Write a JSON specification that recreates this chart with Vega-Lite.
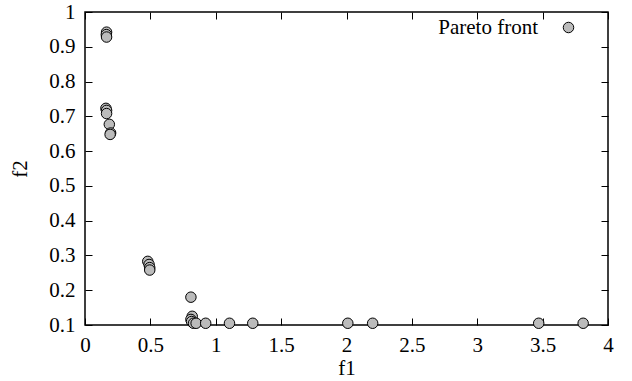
{
  "$schema": "https://vega.github.io/schema/vega-lite/v6.json",
  "width": 523,
  "height": 313,
  "autosize": "none",
  "padding": {"left": 85, "top": 12, "right": 24, "bottom": 56},
  "background": "white",
  "config": {
    "font": "Liberation Serif",
    "view": {"stroke": "black", "strokeWidth": 1.5},
    "axis": {
      "grid": false,
      "domain": false,
      "tickColor": "black",
      "tickWidth": 1,
      "tickSize": -7,
      "labelFont": "Liberation Serif",
      "labelFontSize": 21,
      "labelColor": "black",
      "titleFont": "Liberation Serif",
      "titleFontSize": 21,
      "titleFontWeight": "normal",
      "titleColor": "black"
    },
    "legend": {
      "labelFont": "Liberation Serif",
      "labelFontSize": 21,
      "labelColor": "black",
      "symbolStrokeColor": "black",
      "symbolStrokeWidth": 1,
      "symbolSize": 110
    }
  },
  "data": {
    "values": [
      {"f1": 0.165, "f2": 0.942},
      {"f1": 0.163, "f2": 0.935},
      {"f1": 0.165, "f2": 0.928},
      {"f1": 0.160, "f2": 0.723},
      {"f1": 0.165, "f2": 0.717},
      {"f1": 0.165, "f2": 0.708},
      {"f1": 0.186, "f2": 0.677},
      {"f1": 0.196, "f2": 0.652},
      {"f1": 0.192, "f2": 0.648},
      {"f1": 0.480, "f2": 0.283},
      {"f1": 0.490, "f2": 0.274},
      {"f1": 0.495, "f2": 0.265},
      {"f1": 0.495, "f2": 0.258},
      {"f1": 0.810, "f2": 0.180},
      {"f1": 0.820, "f2": 0.125},
      {"f1": 0.810, "f2": 0.116},
      {"f1": 0.815, "f2": 0.110},
      {"f1": 0.830, "f2": 0.105},
      {"f1": 0.850, "f2": 0.105},
      {"f1": 0.923, "f2": 0.105},
      {"f1": 1.105, "f2": 0.105},
      {"f1": 1.283, "f2": 0.105},
      {"f1": 2.010, "f2": 0.105},
      {"f1": 2.200, "f2": 0.105},
      {"f1": 3.470, "f2": 0.105},
      {"f1": 3.810, "f2": 0.105}
    ]
  },
  "layer": [
    {
      "mark": {"type": "point", "shape": "circle", "filled": true, "size": 110, "opacity": 1, "stroke": "black", "strokeWidth": 1},
      "encoding": {
        "x": {
          "field": "f1", "type": "quantitative",
          "scale": {"domain": [0, 4], "nice": false, "zero": false},
          "axis": {"title": "f1", "format": "~g", "values": [0, 0.5, 1, 1.5, 2, 2.5, 3, 3.5, 4], "labelPadding": 16, "titlePadding": 2, "labelFlush": false}
        },
        "y": {
          "field": "f2", "type": "quantitative",
          "scale": {"domain": [0.1, 1], "nice": false, "zero": false},
          "axis": {"title": "f2", "format": "~g", "values": [0.1, 0.2, 0.3, 0.4, 0.5, 0.6, 0.7, 0.8, 0.9, 1], "labelPadding": 17, "titlePadding": 18, "labelFlush": false}
        },
        "color": {
          "datum": "Pareto front",
          "type": "nominal",
          "scale": {"range": ["#bbbbbb"]},
          "legend": {"title": null, "orient": "none", "legendX": 473, "legendY": 5, "labelAlign": "right", "labelOffset": -41}
        }
      }
    },
    {
      "mark": {"type": "point", "opacity": 0},
      "encoding": {
        "x": {"field": "f1", "type": "quantitative", "axis": {"orient": "top", "labels": false, "title": null, "values": [0, 0.5, 1, 1.5, 2, 2.5, 3, 3.5, 4]}},
        "y": {"field": "f2", "type": "quantitative", "axis": {"orient": "right", "labels": false, "title": null, "values": [0.1, 0.2, 0.3, 0.4, 0.5, 0.6, 0.7, 0.8, 0.9, 1]}}
      }
    }
  ],
  "resolve": {"axis": {"x": "independent", "y": "independent"}}
}
